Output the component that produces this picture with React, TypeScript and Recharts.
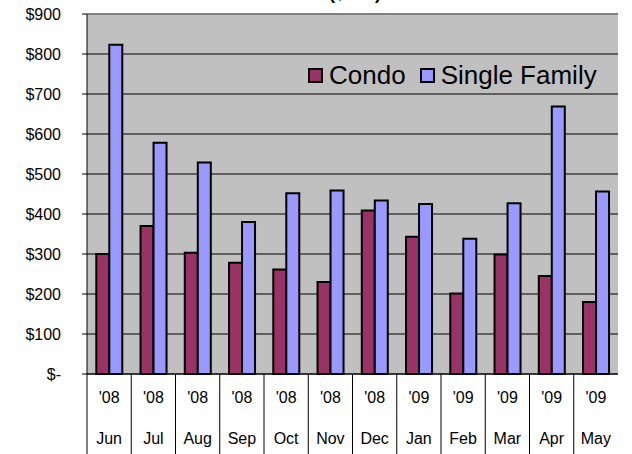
import React from 'react';
import { BarChart, Bar, XAxis, YAxis, CartesianGrid, ReferenceLine, Legend } from 'recharts';

const months = ['Jun', 'Jul', 'Aug', 'Sep', 'Oct', 'Nov', 'Dec', 'Jan', 'Feb', 'Mar', 'Apr', 'May'];
const years = ["'08", "'08", "'08", "'08", "'08", "'08", "'08", "'09", "'09", "'09", "'09", "'09"];
const condo = [300, 370, 303, 278, 261, 230, 409, 343, 201, 299, 245, 180];
const singleFamily = [823, 578, 529, 380, 452, 459, 434, 425, 338, 427, 669, 456];
const yTicks = [0, 100, 200, 300, 400, 500, 600, 700, 800, 900];
const title = "Median Sales Price ($000)";

const data = months.map((m, i) => ({ month: m, year: years[i], condo: condo[i], single: singleFamily[i] }));

const FONT = '"Liberation Sans", Arial, sans-serif';
const W = 632;
const H = 454;
const ML = 87;
const MR = 14;
const HALF = (W - ML - MR) / months.length / 2;

const XTick = (props: any) => {
  const { x, y, index } = props;
  const i = props.payload && props.payload.index != null ? props.payload.index : index;
  return (
    <g>
      <line x1={x - HALF} x2={x - HALF} y1={y} y2={y + 82} stroke="#000" strokeWidth={1} />
      <text x={x} y={y + 28.5} textAnchor="middle" fontSize={16} fontFamily={FONT} fill="#000">{years[i]}</text>
      <text x={x} y={y + 69.5} textAnchor="middle" fontSize={16} fontFamily={FONT} fill="#000">{months[i]}</text>
    </g>
  );
};

const LegendContent = (props: any) => {
  const items = props.payload || [];
  return (
    <div style={{ display: 'flex', alignItems: 'center', fontFamily: FONT, fontSize: 26, color: '#000', lineHeight: '26px', whiteSpace: 'nowrap' }}>
      {items.map((it: any, k: number) => (
        <div key={k} style={{ display: 'flex', alignItems: 'center', marginRight: k === 0 ? 14 : 0 }}>
          <span style={{ display: 'inline-block', width: 15, height: 15, boxSizing: 'border-box', border: '2px solid #000', background: it.color, marginRight: 6 }} />
          <span>{it.value}</span>
        </div>
      ))}
    </div>
  );
};

export default function App() {
  return (
    <div style={{ position: 'absolute', left: 0, top: 0, width: W, height: H, background: '#fff', overflow: 'hidden' }}>
      <div style={{ position: 'absolute', right: W - 381, top: -17, fontFamily: FONT, fontWeight: 'bold', fontSize: 18, whiteSpace: 'nowrap' }}>{title}</div>
      <BarChart width={W} height={H} data={data} margin={{ top: 14, right: MR, left: 0, bottom: 0 }} barGap={0} barCategoryGap="21%">
        <CartesianGrid vertical={false} stroke="#000" strokeWidth={1} fill="#C0C0C0" fillOpacity={1} />
        <XAxis dataKey="month" height={80} tickLine={false} tickSize={0} tickMargin={0} interval={0} axisLine={{ stroke: '#000' }} tick={<XTick />} />
        <YAxis domain={[0, 900]} ticks={yTicks} width={ML} tickSize={5} tickMargin={21} interval={0}
          axisLine={{ stroke: '#000' }} tickLine={{ stroke: '#000' }}
          tick={{ fontSize: 16, fontFamily: FONT, fill: '#000' }}
          tickFormatter={(v: number) => (v === 0 ? '$-' : `$${v}`)} />
        <YAxis yAxisId="r" orientation="right" width={0} domain={[0, 900]} tick={false} tickLine={false} axisLine={{ stroke: '#808080', strokeWidth: 2 }} />
        <ReferenceLine y={900} stroke="#808080" strokeWidth={2} />
        <Legend layout="horizontal" verticalAlign="middle" align="center" content={<LegendContent />}
          wrapperStyle={{ position: 'absolute', left: 308, top: 62, width: 'auto', height: 'auto' }} />
        <Bar dataKey="condo" name="Condo" fill="#993366" stroke="#000" strokeWidth={2} isAnimationActive={false} />
        <Bar dataKey="single" name="Single Family" fill="#9999FF" stroke="#000" strokeWidth={2} isAnimationActive={false} />
      </BarChart>
    </div>
  );
}
